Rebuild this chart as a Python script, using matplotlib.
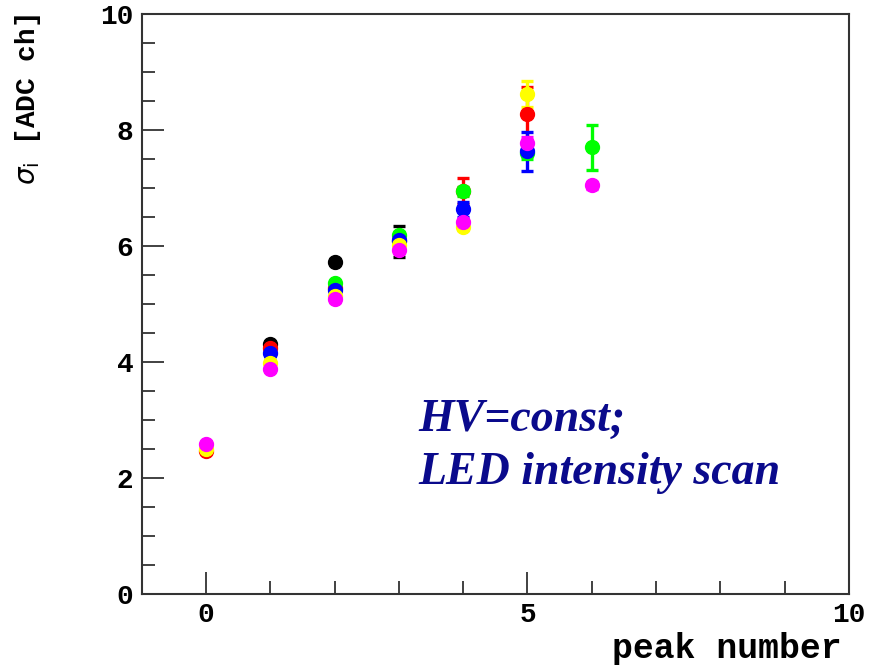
import matplotlib
matplotlib.use("Agg")
import matplotlib.pyplot as plt
from matplotlib.ticker import MultipleLocator

# sigma of each photoelectron peak, one series per LED intensity setting
peaks_black = [1, 2, 3]
sigma_black = [4.31, 5.73, 6.08]
err_black = [0.04, 0.04, 0.27]

peaks_red = [0, 1, 2, 4, 5]
sigma_red = [2.47, 4.24, 5.28, 6.95, 8.27]
err_red = [0.03, 0.04, 0.04, 0.23, 0.48]

peaks_green = [2, 3, 4, 5, 6]
sigma_green = [5.36, 6.19, 6.94, 7.60, 7.70]
err_green = [0.04, 0.05, 0.08, 0.10, 0.39]

peaks_blue = [1, 2, 3, 4, 5]
sigma_blue = [4.15, 5.24, 6.10, 6.63, 7.63]
err_blue = [0.04, 0.04, 0.05, 0.13, 0.33]

peaks_yellow = [0, 1, 2, 3, 4, 5]
sigma_yellow = [2.50, 3.99, 5.13, 6.02, 6.32, 8.62]
err_yellow = [0.03, 0.04, 0.04, 0.05, 0.05, 0.22]

peaks_magenta = [0, 1, 2, 3, 4, 5, 6]
sigma_magenta = [2.58, 3.88, 5.08, 5.93, 6.42, 7.77, 7.05]
err_magenta = [0.03, 0.04, 0.04, 0.05, 0.05, 0.11, 0.06]

series = [
    (peaks_black, sigma_black, err_black, "#000000"),
    (peaks_red, sigma_red, err_red, "#ff0000"),
    (peaks_green, sigma_green, err_green, "#00ff00"),
    (peaks_blue, sigma_blue, err_blue, "#0000ff"),
    (peaks_yellow, sigma_yellow, err_yellow, "#ffff00"),
    (peaks_magenta, sigma_magenta, err_magenta, "#ff00ff"),
]

mono = "Liberation Mono"

fig = plt.figure(figsize=(8.69, 6.68), dpi=100)
ax = fig.add_axes([0.163, 0.111, 0.814, 0.868])

for x, y, e, c in series:
    ax.errorbar(x, y, yerr=e, fmt="o", color=c, mec=c, ms=10,
                elinewidth=2.4, capsize=4.5, capthick=2.4)

ax.set_xlim(-1, 10)
ax.set_ylim(0, 10)
ax.xaxis.set_major_locator(MultipleLocator(5))
ax.xaxis.set_minor_locator(MultipleLocator(1))
ax.yaxis.set_major_locator(MultipleLocator(2))
ax.yaxis.set_minor_locator(MultipleLocator(0.5))
ax.tick_params(which="both", direction="in", top=False, right=False,
               color="#333333", width=1.3)
ax.tick_params(which="major", length=16, labelsize=20, pad=6)
ax.tick_params(which="minor", length=9.5)
for lab in ax.get_xticklabels() + ax.get_yticklabels():
    lab.set_family(mono)
    lab.set_fontweight("bold")
for s in ax.spines.values():
    s.set_color("#333333")
    s.set_linewidth(1.5)

ax.set_xlabel("peak number", family=mono, fontweight="bold", fontsize=25)
ax.xaxis.set_label_coords(0.99, -0.065)
ax.xaxis.label.set_horizontalalignment("right")
ax.set_ylabel(r"$\sigma_{\rm i}$ [ADC ch]", family=mono, fontweight="bold", fontsize=20)
ax.yaxis.set_label_coords(-0.14, 1.0)
ax.yaxis.label.set_horizontalalignment("right")

note_style = dict(family="Liberation Serif", fontweight="bold", style="italic",
                  fontsize=33, color="#0a0a8c", va="center", ha="left")
ax.text(3.31, 3.0, "HV=const;", **note_style)
ax.text(3.31, 2.09, "LED intensity scan", **note_style)

fig.savefig("out.png", dpi=100)
